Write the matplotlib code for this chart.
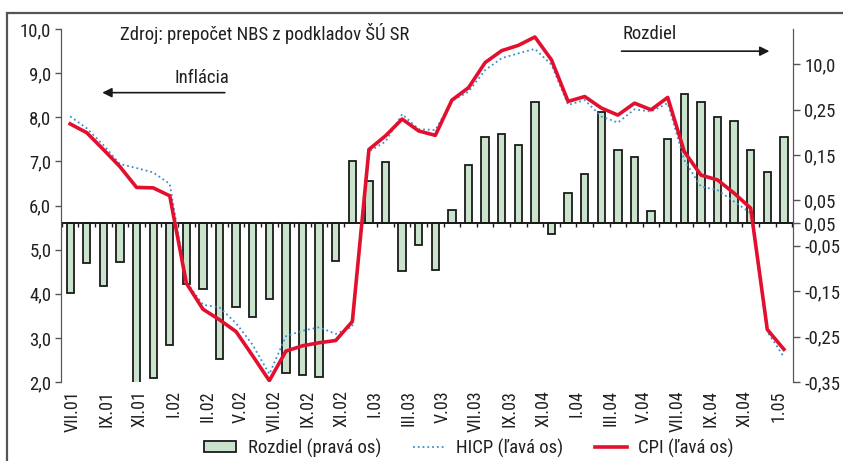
import numpy as np
import matplotlib
matplotlib.use("Agg")
import matplotlib.pyplot as plt
from matplotlib.patches import Rectangle
from matplotlib import font_manager as fm


def uzky_font():
    # hladame nejaky zuzeny font, inak obycajny
    for meno in ["Liberation Sans Narrow", "DejaVu Sans Condensed", "Roboto Condensed",
                 "Open Sans Condensed", "Noto Sans Condensed", "Arial Narrow"]:
        try:
            fm.findfont(fm.FontProperties(family=meno), fallback_to_default=False)
            return meno
        except Exception:
            pass
    for f in fm.fontManager.ttflist:
        if f.stretch in ("condensed", "semi-condensed", "extra-condensed") and "Sans" in f.name:
            return f.name
    return "Liberation Sans"


FONT = uzky_font()
plt.rcParams['font.family'] = [FONT, 'DejaVu Sans']

# mesiace VII.01 .. II.05
tick_labels = ["VII.01", "IX.01", "XI.01", "I.02", "II.02", "V.02", "VII.02", "IX.02",
               "XI.02", "I.03", "III.03", "V.03", "VII.03", "IX.03", "XI.04", "I.04",
               "III.04", "V.04", "VII.04", "IX.04", "XI.04", "1.05"]

# rozdiel (prava os)
rozdiel = [-0.154, -0.088, -0.138, -0.085, -0.37, -0.342, -0.269, -0.135, -0.144, -0.300,
           -0.184, -0.206, -0.168, -0.330, -0.334, -0.339, -0.084, 0.136, 0.094, 0.135,
           -0.105, -0.048, -0.104, 0.030, 0.129, 0.189, 0.197, 0.173, 0.266, -0.024,
           0.066, 0.109, 0.245, 0.162, 0.146, 0.027, 0.185, 0.285, 0.266, 0.234,
           0.225, 0.162, 0.112, 0.190]

# HICP (lava os)
hicp = [8.02, 7.75, 7.37, 6.94, 6.85, 6.75, 6.49, 4.27, 3.75, 3.69,
        3.33, 2.84, 2.18, 3.04, 3.16, 3.24, 3.09, 3.25, 7.22, 7.45,
        8.07, 7.73, 7.71, 8.37, 8.58, 9.07, 9.34, 9.45, 9.55, 9.19,
        8.28, 8.39, 8.02, 7.88, 8.18, 8.13, 8.32, 7.03, 6.43, 6.35,
        6.09, 5.83, 3.14, 2.57]

# CPI (lava os)
cpi = [7.85, 7.65, 7.27, 6.88, 6.41, 6.40, 6.22, 4.24, 3.65, 3.41,
       3.14, 2.59, 2.03, 2.70, 2.82, 2.89, 2.94, 3.37, 7.27, 7.58,
       7.96, 7.69, 7.59, 8.39, 8.67, 9.24, 9.51, 9.63, 9.82, 9.30,
       8.36, 8.47, 8.21, 8.05, 8.32, 8.17, 8.45, 7.22, 6.69, 6.58,
       6.28, 5.94, 3.19, 2.74]

left_ticks = [2, 3, 4, 5, 6, 7, 8, 9, 10]
right_ticks = [0.35, 0.25, 0.15, 0.05, 0.0, -0.05, -0.15, -0.25, -0.35]
right_labels = ["10,0", "0,25", "0,15", "0,05", "0,05", "-0,05", "-0,15", "-0,25", "-0,35"]

x = np.arange(len(cpi))
txt = "#231f20"
fs = 13

fig = plt.figure(figsize=(8.43, 4.61), dpi=100)
ax = fig.add_axes([0.0724, 0.1714, 0.8683, 0.7656])
ax2 = ax.twinx()

bars = ax2.bar(x, rozdiel, width=0.44, color="#c9e3cc", edgecolor="#1a1a1a", linewidth=1.3,
               label="Rozdiel (pravá os)", zorder=2)
ax2.axhline(0, color="#1a1a1a", lw=1.4, zorder=3)

ln_h, = ax.plot(x, hicp, ":", color="#3a8fd0", lw=1.3, label="HICP (ľavá os)")
ln_c, = ax.plot(x, cpi, "-", color="#e2102e", lw=2.6, label="CPI (ľavá os)")
# ciary nad stlpcami
ax.set_zorder(ax2.get_zorder() + 1)
ax.patch.set_visible(False)

ax.set_xlim(-0.55, len(x) - 0.45)
ax.set_ylim(2, 10)
ax2.set_ylim(-0.35, 0.35 / 0.45 * 0.55)

ax.set_yticks(left_ticks)
ax.set_yticklabels([f"{v:.1f}".replace(".", ",") for v in left_ticks])
ax2.set_yticks(right_ticks)
ax2.set_yticklabels(right_labels)

label_pos = np.linspace(0.15, 42.65, len(tick_labels))
ax.set_xticks(label_pos)
ax.set_xticklabels(tick_labels, rotation=90)
ax.tick_params(axis="x", length=0, pad=6, labelsize=fs, colors=txt)
ax.tick_params(axis="y", direction="out", length=4, width=1, color="#555555",
               labelsize=fs + 0.5, labelcolor=txt, pad=3)
ax2.tick_params(axis="y", direction="out", length=5, width=1, color="#555555",
                labelsize=fs + 0.5, labelcolor=txt, pad=3)

for a in (ax, ax2):
    a.spines["top"].set_visible(False)
    a.spines["bottom"].set_visible(False)
    a.spines["left"].set_color("#555555")
    a.spines["right"].set_color("#555555")

# male ciarky na nulovej osi
sec = ax.secondary_xaxis(0.45)
sec.set_xticks(np.arange(-0.5, len(x), 1))
sec.xaxis.set_ticks_position("bottom")
sec.tick_params(axis="x", direction="out", length=3, width=1, color="#1a1a1a",
                labelbottom=False, labeltop=False)
sec.spines["bottom"].set_visible(False)
sec.spines["top"].set_visible(False)

fig.text(0.142, 0.928, "Zdroj: prepočet NBS z podkladov ŠÚ SR", fontsize=fs + 0.5,
         color=txt, va="center")
fig.text(0.207, 0.831, "Inflácia", fontsize=fs + 0.5, color=txt, va="center")
fig.text(0.738, 0.926, "Rozdiel", fontsize=fs + 0.5, color=txt, va="center")
fig.add_artist(plt.Annotation("", xy=(0.118, 0.799), xytext=(0.27, 0.799),
                              xycoords="figure fraction",
                              arrowprops=dict(arrowstyle="-|>", color="#1a1a1a", lw=1.2,
                                              mutation_scale=14)))
fig.add_artist(plt.Annotation("", xy=(0.916, 0.889), xytext=(0.734, 0.889),
                              xycoords="figure fraction",
                              arrowprops=dict(arrowstyle="-|>", color="#1a1a1a", lw=1.2,
                                              mutation_scale=14)))

# ram okolo grafu
fig.add_artist(Rectangle((0.0085, -0.05), 1.2, 1.022, transform=fig.transFigure,
                         fill=False, edgecolor="#555555", lw=1.6))

fig.legend([bars, ln_h, ln_c], ["Rozdiel (pravá os)", "HICP (ľavá os)", "CPI (ľavá os)"],
           loc="center left", bbox_to_anchor=(0.227, 0.028), ncol=3, frameon=False,
           fontsize=fs + 0.5, handlelength=1.7, handleheight=0.5, handletextpad=0.6,
           columnspacing=1.7, labelcolor=txt, borderpad=0.2)

fig.savefig("out.png", dpi=100)
